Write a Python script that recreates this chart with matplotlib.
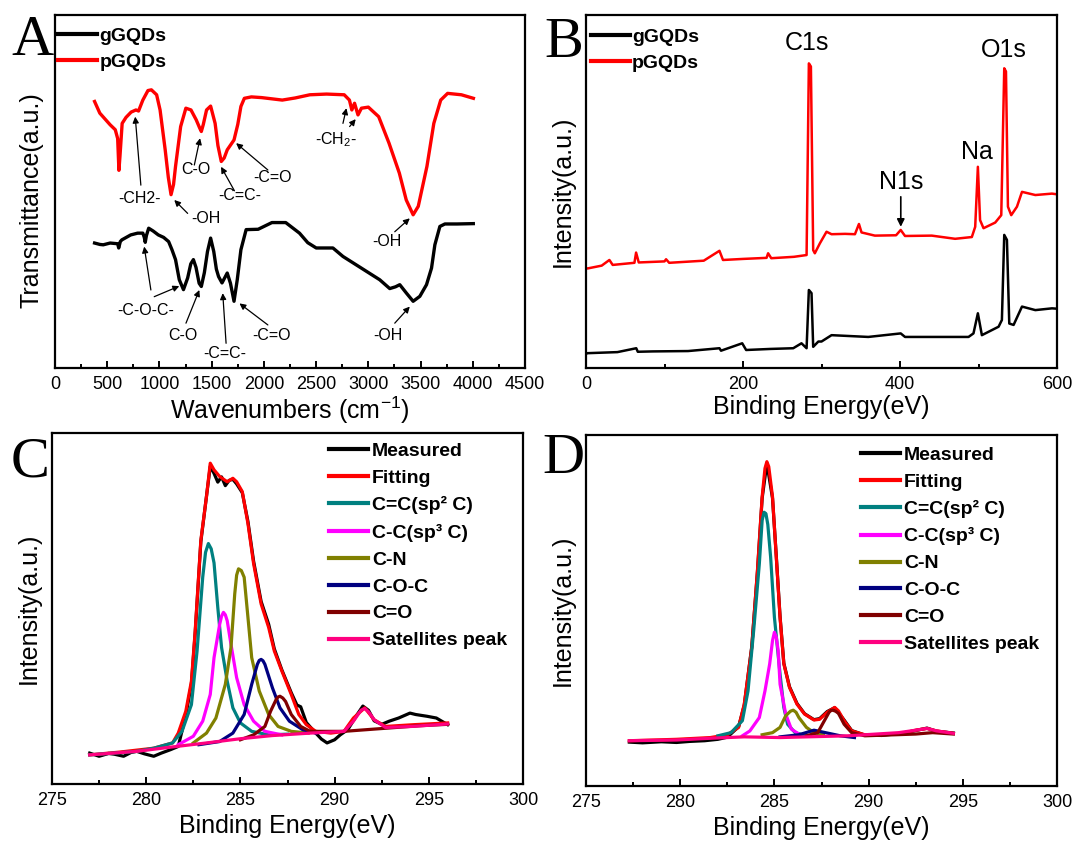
import matplotlib
matplotlib.use('Agg')
import matplotlib.pyplot as plt
from matplotlib.ticker import MultipleLocator

plt.rcParams['font.family'] = ['Liberation Sans', 'DejaVu Sans']
plt.rcParams['mathtext.fontset'] = 'custom'
plt.rcParams['mathtext.rm'] = 'Liberation Sans'
plt.rcParams['mathtext.bf'] = 'Liberation Sans:bold'
plt.rcParams['mathtext.it'] = 'Liberation Sans:italic'

# ---------------- Panel A: FTIR ----------------
A_red_x = [379, 429, 465, 528, 577, 600, 612, 622, 643, 680, 729, 775, 800, 841, 890, 923, 973, 1006, 1055, 1085,
           1111, 1135, 1154, 1203, 1253, 1302, 1352, 1385, 1401, 1420, 1451, 1490, 1533, 1560, 1592, 1620, 1649,
           1714, 1750, 1780, 1813, 1880, 1978, 2176, 2300, 2440, 2600, 2769, 2819, 2842, 2868, 2901, 2934, 3000,
           3099, 3198, 3297, 3363, 3429, 3478, 3561, 3627, 3693, 3759, 3891, 4006]
A_red_y = [75.5, 72.2, 71.0, 68.9, 67.5, 65.0, 56.0, 60.0, 69.3, 71.0, 72.5, 73.1, 72.8, 75.9, 78.6, 78.8, 77.4,
           73.1, 61.8, 54.0, 49.1, 52.0, 57.1, 68.4, 73.6, 73.1, 70.3, 68.0, 67.0, 69.0, 73.1, 74.2, 69.3, 63.0,
           58.5, 59.5, 61.8, 64.6, 69.0, 74.1, 76.4, 76.8, 76.6, 75.9, 76.5, 77.4, 77.6, 77.4, 75.9, 73.1, 75.0,
           71.7, 73.6, 73.9, 71.2, 63.7, 55.2, 47.6, 43.4, 45.8, 57.1, 69.3, 75.9, 77.8, 77.4, 76.4]
A_black_x = [379, 430, 462, 528, 600, 610, 625, 640, 725, 791, 841, 855, 864, 875, 897, 940, 989, 1040, 1088, 1120,
             1154, 1190, 1230, 1270, 1300, 1325, 1350, 1380, 1401, 1430, 1460, 1490, 1520, 1545, 1566, 1599, 1649,
             1680, 1714, 1745, 1780, 1830, 1945, 2077, 2209, 2341, 2420, 2501, 2661, 2757, 2885, 2981, 3109, 3205,
             3260, 3301, 3365, 3429, 3493, 3557, 3605, 3637, 3685, 3733, 3850, 4005]
A_black_y = [35.4, 35.0, 34.9, 35.4, 35.2, 34.0, 35.8, 36.3, 37.7, 38.2, 38.2, 37.0, 35.6, 37.5, 39.6, 38.8, 37.7,
             37.0, 35.8, 33.5, 30.7, 25.0, 22.2, 25.5, 29.5, 30.7, 28.5, 24.0, 23.1, 27.0, 33.0, 36.8, 33.0, 28.0,
             25.9, 24.1, 26.9, 24.0, 18.9, 25.0, 33.5, 39.2, 39.3, 41.2, 41.2, 38.2, 35.5, 34.0, 34.0, 31.6, 29.2,
             27.4, 25.0, 22.5, 23.0, 23.6, 21.2, 18.9, 20.3, 23.6, 28.3, 34.9, 40.1, 40.8, 40.8, 40.9]

# annotation labels: (text, text_x, text_y, [(tail_x, tail_y, head_x, head_y), ...])
A_notes = [
    ('-CH2-', 806, 47.9, [(822, 51.8, 768, 71.2)]),
    ('-OH', 1446, 42.4, [(1270, 43.8, 1142, 47.6)]),
    ('C-O', 1350, 56.1, [(1334, 57.5, 1389, 65.1)]),
    ('-C=C-', 1766, 49.0, [(1718, 50.2, 1590, 57.0)]),
    ('-C=O', 2085, 54.0, [(2038, 56.1, 1734, 63.7)]),
    ('-CH$_2$-', 2694, 64.6, [(2757, 69.3, 2790, 73.6), (2821, 68.4, 2879, 70.5)]),
    ('-OH', 3173, 35.8, [(3253, 38.6, 3397, 42.4)]),
    ('-C-O-C-', 870, 16.4, [(918, 22.1, 854, 34.4), (950, 20.2, 1190, 23.2)]),
    ('C-O', 1222, 9.1, [(1254, 12.7, 1382, 22.1)]),
    ('-C=C-', 1622, 4.0, [(1638, 7.0, 1606, 21.2)]),
    ('-C=O', 2070, 9.1, [(2038, 12.2, 1766, 18.3)]),
    ('-OH', 3189, 9.1, [(3253, 12.7, 3397, 17.4)]),
]

# ---------------- Panel B: XPS survey ----------------
B_red_x = [0, 2, 20, 29.8, 34, 61.7, 63.8, 67.2, 100, 102, 106, 150, 170, 174.5, 200, 230, 232, 236, 265, 281,
           283.9, 286.5, 289.4, 291.5, 297.9, 306.4, 312.8, 330, 342.6, 347.7, 351, 368, 395, 400.9, 406.4, 440.5,
           470.2, 491.5, 495.8, 499.2, 502, 506.4, 521.3, 529, 532.8, 535, 537.5, 541.7, 549, 555.4, 572.4, 593.6, 600]
B_red_y = [28.3, 28.2, 29.0, 30.6, 29.2, 29.8, 32.7, 29.9, 30.2, 30.8, 29.8, 30.4, 33.2, 30.6, 30.9, 31.2, 32.5,
           31.1, 31.5, 32.0, 86.3, 85.4, 33.4, 32.5, 35.3, 38.6, 37.9, 38.0, 37.9, 40.8, 38.4, 37.5, 37.6, 39.1,
           37.4, 37.5, 36.6, 37.1, 40.0, 57.0, 41.9, 39.6, 41.2, 43.3, 84.9, 84.0, 45.7, 43.3, 45.7, 49.9, 49.0,
           49.4, 49.2]
B_black_x = [0, 2, 40, 64, 66, 85, 130, 170, 172, 199, 204, 235, 264, 274.5, 281, 283.9, 287.3, 289.4, 296, 300,
             312.8, 359.6, 400.9, 406.4, 487.3, 493.6, 499.2, 504.3, 525.6, 529.8, 532.8, 536.2, 539.2, 544.7, 555.4,
             572.4, 593.6, 600]
B_black_y = [4.0, 4.2, 4.5, 5.6, 4.6, 4.7, 4.8, 5.6, 4.9, 7.0, 5.1, 5.4, 5.6, 7.0, 5.6, 22.1, 21.2, 6.0, 7.5, 7.5,
             9.3, 8.8, 9.8, 8.8, 8.8, 9.8, 15.5, 9.3, 11.7, 13.6, 37.7, 36.3, 12.6, 12.2, 17.4, 16.4, 16.9, 16.8]
B_peaks = [('C1s', 281, 92.1), ('O1s', 532, 90.1), ('Na', 498, 61.3), ('N1s', 402, 52.8)]

# ---------------- Panel C: C1s gGQDs ----------------
C_meas_x = [277.0, 277.5, 278.0, 278.3, 278.8, 279.2, 279.5, 279.9, 280.4, 280.8, 281.3, 281.7, 282.1, 282.4, 282.6,
            282.9, 283.2, 283.4, 283.6, 283.8, 284.0, 284.2, 284.4, 284.6, 284.8, 285.1, 285.4, 285.7, 286.1, 286.5,
            286.8, 287.2, 287.7, 288.0, 288.2, 288.5, 289.0, 289.3, 289.6, 290.0, 290.3, 290.7, 291.2, 291.5, 291.8,
            292.1, 292.5, 292.9, 293.4, 294.0, 294.3, 294.9, 295.4, 296.0]
C_meas_y = [8.8, 7.9, 8.7, 8.5, 7.9, 9.0, 9.3, 8.6, 7.9, 8.8, 9.8, 10.7, 19.5, 28.5, 43.0, 69.0, 82.0, 90.5, 88.5,
            86.0, 87.5, 85.0, 86.5, 86.8, 85.5, 83.0, 74.8, 63.5, 52.0, 45.5, 38.5, 32.5, 26.0, 22.5, 22.0, 17.5,
            14.5, 12.8, 11.7, 12.6, 14.0, 15.5, 19.8, 22.2, 21.0, 18.0, 17.0, 17.9, 18.8, 20.2, 19.8, 19.3, 18.8, 16.9]
C_fit_x = [277.0, 278.6, 280.4, 281.4, 281.7, 282.1, 282.4, 282.6, 282.9, 283.2, 283.4, 283.6, 283.9, 284.3, 284.6,
           284.8, 285.1, 285.4, 285.7, 286.1, 286.5, 286.8, 287.2, 287.7, 288.1, 288.5, 289.0, 289.8, 290.5, 291.0,
           291.6, 292.1, 292.7, 294.2, 296.0]
C_fit_y = [8.3, 9.1, 10.2, 11.7, 14.5, 20.7, 29.3, 43.6, 69.4, 81.9, 91.4, 89.5, 87.6, 86.1, 87.1, 86.1, 83.3, 74.2,
           62.8, 51.3, 44.6, 37.9, 32.2, 25.5, 19.8, 16.9, 15.0, 14.5, 15.0, 18.8, 21.7, 18.3, 16.4, 16.9, 17.4]
C_sp2_x = [277.0, 279.5, 280.4, 281.4, 281.9, 282.4, 282.7, 283.0, 283.15, 283.3, 283.45, 283.6, 283.8, 284.0, 284.3,
           284.6, 285.0, 285.6, 286.5, 287.5]
C_sp2_y = [8.3, 9.3, 10.2, 11.7, 15.0, 22.6, 37.9, 58.9, 66.0, 68.5, 67.0, 63.0, 50.3, 38.9, 29.3, 21.7, 17.4, 15.0,
           14.0, 14.2]
C_sp3_x = [281.7, 282.5, 283.0, 283.4, 283.6, 283.9, 284.0, 284.1, 284.2, 284.3, 284.5, 284.8, 285.2, 285.7, 286.3,
           287.2]
C_sp3_y = [11.2, 13.6, 17.9, 25.5, 36.0, 45.5, 47.8, 48.9, 48.2, 46.5, 39.8, 30.3, 22.6, 17.9, 15.0, 14.0]
C_cn_x = [282.5, 283.2, 283.7, 284.2, 284.5, 284.7, 284.8, 284.9, 285.05, 285.2, 285.4, 285.6, 286.0, 286.5, 287.0,
          287.7, 288.6]
C_cn_y = [11.7, 14.5, 18.8, 28.4, 38.9, 54.2, 59.5, 61.3, 60.8, 58.9, 47.5, 36.0, 26.5, 19.8, 16.4, 15.0, 14.5]
C_coc_x = [282.8, 283.9, 284.6, 285.2, 285.6, 285.9, 286.0, 286.1, 286.2, 286.3, 286.7, 287.1, 287.6, 288.3, 289.0]
C_coc_y = [11.2, 12.1, 14.5, 19.8, 28.4, 34.1, 35.2, 35.5, 35.1, 34.1, 27.4, 21.7, 17.9, 15.5, 14.5]
C_co_x = [285.0, 285.7, 286.3, 286.6, 286.9, 287.0, 287.1, 287.25, 287.4, 287.7, 288.2, 288.7, 290.5, 292.5, 294.5,
          296.0]
C_co_y = [12.6, 14.0, 16.4, 20.7, 24.1, 24.8, 25.0, 24.5, 23.5, 19.8, 16.4, 15.0, 15.0, 15.8, 16.6, 17.0]
C_sat_x = [277.0, 279.5, 281.3, 283.2, 285.0, 286.7, 288.7, 290.5, 291.0, 291.4, 291.6, 291.8, 292.1, 292.7, 294.1,
           296.0]
C_sat_y = [8.3, 9.3, 10.5, 11.7, 12.9, 13.8, 14.5, 15.0, 17.9, 21.0, 21.5, 20.6, 18.3, 16.1, 16.4, 17.1]

# ---------------- Panel D: C1s pGQDs ----------------
D_meas_x = [277.3, 278.0, 279.0, 279.8, 280.5, 281.3, 282.0, 282.5, 283.1, 283.4, 283.8, 284.1, 284.35, 284.6, 284.9,
            285.1, 285.3, 285.5, 285.8, 286.2, 286.6, 287.1, 287.4, 287.8, 288.2, 288.7, 289.1, 289.8, 290.7, 291.8,
            292.5, 293.1, 293.6, 294.5]
D_meas_y = [12.5, 12.3, 12.6, 12.4, 12.7, 12.9, 13.3, 13.9, 16.9, 23.0, 39.8, 61.0, 82.0, 92.0, 82.0, 65.5, 48.3,
            35.0, 28.3, 23.5, 20.6, 18.9, 19.2, 21.2, 22.3, 18.8, 15.8, 14.5, 14.4, 15.1, 15.8, 16.5, 15.6, 15.1]
D_fit_x = [277.3, 279.8, 281.6, 282.5, 283.1, 283.4, 283.8, 284.1, 284.35, 284.5, 284.6, 284.7, 284.9, 285.1, 285.3,
           285.5, 285.8, 286.2, 286.6, 287.1, 287.4, 287.8, 288.2, 288.4, 288.7, 289.1, 289.8, 290.7, 291.8, 292.5,
           293.1, 293.6, 294.5]
D_fit_y = [12.9, 13.3, 13.8, 14.6, 16.7, 23.3, 39.5, 61.4, 82.4, 90.5, 92.4, 91.0, 82.4, 65.2, 48.1, 34.8, 28.1,
           23.3, 20.5, 18.8, 19.0, 21.0, 22.4, 21.4, 18.6, 15.7, 14.6, 14.6, 15.0, 15.9, 16.4, 15.7, 15.0]
D_sp2_x = [282.0, 282.7, 283.3, 283.6, 283.9, 284.2, 284.35, 284.45, 284.55, 284.65, 284.8, 285.0, 285.3, 285.5,
           285.7, 286.1, 286.7]
D_sp2_y = [14.3, 15.2, 18.6, 27.1, 44.3, 63.3, 75.7, 78.0, 77.6, 74.5, 65.2, 48.1, 31.9, 22.4, 17.6, 15.2, 14.3]
D_sp3_x = [283.3, 283.7, 284.2, 284.5, 284.75, 284.9, 285.0, 285.1, 285.2, 285.3, 285.6, 285.9, 286.3]
D_sp3_y = [14.3, 15.7, 19.5, 27.1, 34.8, 41.4, 43.8, 42.4, 38.6, 29.0, 20.5, 16.2, 14.8]
D_cn_x = [284.35, 284.9, 285.3, 285.6, 285.85, 286.0, 286.15, 286.3, 286.7, 287.1, 287.6]
D_cn_y = [14.6, 15.2, 16.7, 20.0, 21.3, 21.6, 21.0, 19.5, 16.7, 15.2, 14.6]
D_coc_x = [285.3, 286.3, 287.1, 287.8, 288.5, 289.25]
D_coc_y = [14.0, 14.6, 15.9, 15.1, 14.3, 13.8]
D_co_x = [286.7, 287.3, 287.6, 287.9, 288.0, 288.1, 288.25, 288.4, 288.7, 289.1, 289.8, 292.5, 293.4, 294.5]
D_co_y = [14.3, 15.2, 18.1, 21.0, 21.5, 21.6, 21.3, 20.7, 17.6, 15.2, 14.3, 14.8, 15.2, 14.8]
D_sat_x = [277.3, 279.8, 281.6, 283.4, 285.3, 288.9, 291.6, 292.5, 293.1, 293.6, 294.5]
D_sat_y = [12.9, 13.1, 13.6, 14.0, 13.8, 14.3, 15.2, 15.9, 16.4, 15.7, 15.0]

comp_labels = ['Measured', 'Fitting', 'C=C(sp² C)', 'C-C(sp³ C)', 'C-N', 'C-O-C', 'C=O', 'Satellites peak']
comp_colors = ['#000000', '#ff0000', '#008080', '#ff00ff', '#808000', '#000080', '#800000', '#ff0080']

W, H = 1076, 844
fig = plt.figure(figsize=(W / 100, H / 100), dpi=100)


def box(l, t, r, b):
    return [l / W, 1 - b / H, (r - l) / W, (b - t) / H]


def style(ax, xlim, major, minor, xlabel, ylabel, ylpad, xlpad=1):
    ax.set_xlim(*xlim)
    ax.set_ylim(0, 100)
    ax.xaxis.set_major_locator(MultipleLocator(major))
    ax.xaxis.set_minor_locator(MultipleLocator(minor))
    ax.tick_params(axis='x', which='both', direction='in', top=False, labelsize=13, width=1.4, pad=6)
    ax.tick_params(axis='x', which='major', length=5)
    ax.tick_params(axis='x', which='minor', length=3)
    ax.set_yticks([])
    for s in ax.spines.values():
        s.set_linewidth(1.6)
    ax.set_xlabel(xlabel, fontsize=18, labelpad=xlpad)
    ax.set_ylabel(ylabel, fontsize=18, labelpad=ylpad)


legend_font = {'weight': 'bold', 'size': 14}

# Panel A
axA = fig.add_axes(box(55, 15, 525, 368))
axA.plot(A_black_x, A_black_y, color='black', lw=2.4, label='gGQDs', solid_joinstyle='round')
axA.plot(A_red_x, A_red_y, color='#ff0000', lw=2.4, label='pGQDs', solid_joinstyle='round')
style(axA, (0, 4500), 500, 250, 'Wavenumbers (cm$^{-1}$)', 'Transmittance(a.u.)', 8)
axA.yaxis.set_label_coords(-0.024, 0.475)
for txt, tx, ty, arrows in A_notes:
    axA.text(tx, ty, txt, fontsize=11.5, ha='center', va='center')
    for (x0, y0, x1, y1) in arrows:
        axA.annotate('', xy=(x1, y1), xytext=(x0, y0),
                     arrowprops=dict(arrowstyle='-|>', lw=0.9, color='black', mutation_scale=9,
                                     shrinkA=0, shrinkB=0))
legA = axA.legend(loc='upper left', bbox_to_anchor=(-0.006, 0.982), frameon=False, prop=legend_font,
                  handlelength=2.0, handletextpad=0.12, labelspacing=0.42, borderaxespad=0.1, borderpad=0.2)
for ln in legA.get_lines():
    ln.set_linewidth(3.0)

# Panel B
axB = fig.add_axes(box(586, 15, 1057, 368))
axB.plot(B_black_x, B_black_y, color='black', lw=1.8, label='gGQDs')
axB.plot(B_red_x, B_red_y, color='#ff0000', lw=1.8, label='pGQDs')
style(axB, (0, 600), 200, 100, 'Binding Energy(eV)', 'Intensity(a.u.)', 8)
for txt, tx, ty in B_peaks:
    axB.text(tx, ty, txt, fontsize=18, ha='center', va='center')
axB.annotate('', xy=(401, 40.0), xytext=(401, 48.5),
             arrowprops=dict(arrowstyle='-|>', lw=1.2, color='black', mutation_scale=11, shrinkA=0, shrinkB=0))
legB = axB.legend(loc='upper left', bbox_to_anchor=(-0.002, 0.978), frameon=False, prop=legend_font,
                  handlelength=2.0, handletextpad=0.12, labelspacing=0.42, borderaxespad=0.1, borderpad=0.2)
for ln in legB.get_lines():
    ln.set_linewidth(3.0)


# Panel C and D
def xps_panel(rect, series, anchor_x, anchor_y):
    ax = fig.add_axes(rect)
    for (xs, ys), lab, col in zip(series, comp_labels, comp_colors):
        ax.plot(xs, ys, color=col, lw=2.3, label=lab, solid_joinstyle='round')
    style(ax, (275, 300), 5, 2.5, 'Binding Energy(eV)', 'Intensity(a.u.)', 8, xlpad=3)
    leg = ax.legend(loc='upper left', bbox_to_anchor=(anchor_x, anchor_y), frameon=False, prop=legend_font,
                    handlelength=2.0, handletextpad=0.2, labelspacing=0.48, borderaxespad=0.1, borderpad=0.2)
    for ln in leg.get_lines():
        ln.set_linewidth(3.0)
    return ax


axC = xps_panel(box(52, 433, 523, 784),
                [(C_meas_x, C_meas_y), (C_fit_x, C_fit_y), (C_sp2_x, C_sp2_y), (C_sp3_x, C_sp3_y),
                 (C_cn_x, C_cn_y), (C_coc_x, C_coc_y), (C_co_x, C_co_y), (C_sat_x, C_sat_y)], 0.576, 0.99)
axD = xps_panel(box(586, 435, 1057, 786),
                [(D_meas_x, D_meas_y), (D_fit_x, D_fit_y), (D_sp2_x, D_sp2_y), (D_sp3_x, D_sp3_y),
                 (D_cn_x, D_cn_y), (D_coc_x, D_coc_y), (D_co_x, D_co_y), (D_sat_x, D_sat_y)], 0.572, 0.985)

# panel letters
for letter, px, py in [('A', 11, 55), ('B', 544, 57), ('C', 11, 476), ('D', 542, 473)]:
    fig.text(px / W, 1 - py / H, letter, fontsize=42, family='Liberation Serif', ha='left', va='baseline')

fig.savefig('out.png', dpi=100)
